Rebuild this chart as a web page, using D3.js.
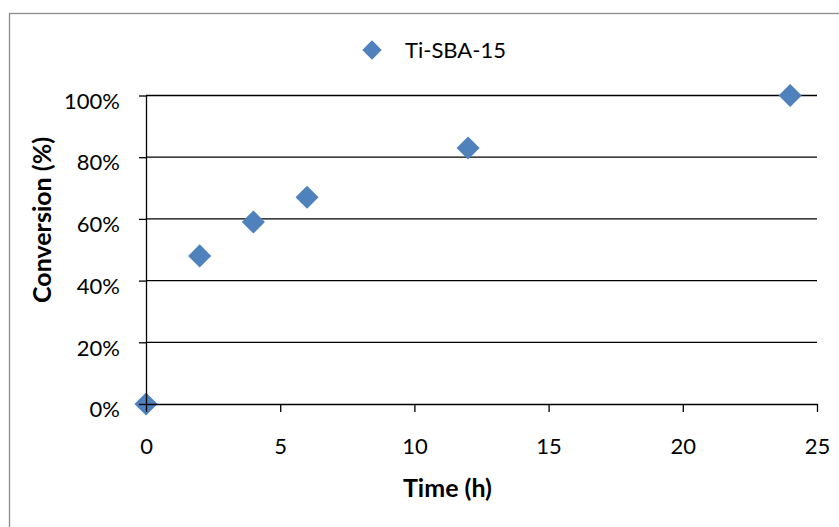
<!DOCTYPE html>
<html>
<head>
<meta charset="utf-8">
<script src="https://cdn.jsdelivr.net/npm/d3@7"></script>
<style>
    body { margin: 0; background: #fff; }
    svg text { font-family: Lato, "Open Sans", sans-serif; fill: #000; }
</style>
</head>
<body>
<div id="chart"></div>
<script>
// reaction time (h) vs conversion
const times = [0, 2, 4, 6, 12, 24];
const conversion = [0, 0.48, 0.59, 0.67, 0.83, 1.00];
const seriesName = "Ti-SBA-15";
const xTicks = [0, 5, 10, 15, 20, 25];
const yTicks = [0, 0.2, 0.4, 0.6, 0.8, 1.0];

const width = 839, height = 527;
const margin = {top: 95.5, right: 22, bottom: 123, left: 146};
const plotW = width - margin.left - margin.right;
const plotH = height - margin.top - margin.bottom;
const markerColor = "#4F81BD";

const svg = d3.select("#chart").append("svg")
    .attr("width", width)
    .attr("height", height);

// outer chart frame (runs off the right and bottom of the picture)
svg.append("rect")
    .attr("x", 9.5).attr("y", 13.5)
    .attr("width", 900).attr("height", 600)
    .attr("fill", "#fff")
    .attr("stroke", "#8c8c8c")
    .attr("stroke-width", 1.3);

const x = d3.scaleLinear().domain([0, 25]).range([0, plotW]);
const y = d3.scaleLinear().domain([0, 1]).range([plotH, 0]);

const g = svg.append("g")
    .attr("transform", "translate(" + margin.left + "," + margin.top + ")");

// horizontal gridlines
g.append("g")
    .selectAll("line")
    .data(yTicks.slice(1))
    .join("line")
    .attr("x1", 0).attr("x2", plotW)
    .attr("y1", d => y(d)).attr("y2", d => y(d))
    .attr("stroke", "#000")
    .attr("stroke-width", 1.3);

const diamond = d3.symbol().type(d3.symbolDiamond2).size(340);

g.append("g")
    .selectAll("path")
    .data(times.map((t, i) => ({t: t, v: conversion[i]})))
    .join("path")
    .attr("d", diamond)
    .attr("transform", d => "translate(" + x(d.t) + "," + y(d.v) + ")")
    .attr("fill", markerColor);

// axes go on top of the markers (the 0,0 point shows the cross)
const yAxis = d3.axisLeft(y)
    .tickValues(yTicks)
    .tickFormat(d3.format(".0%"))
    .tickSizeInner(7)
    .tickSizeOuter(0)
    .tickPadding(19);

const yAxisG = g.append("g").call(yAxis);

const xAxis = d3.axisBottom(x)
    .tickValues(xTicks)
    .tickSizeInner(8)
    .tickSizeOuter(0)
    .tickPadding(42);

const xAxisG = g.append("g")
    .attr("transform", "translate(0," + plotH + ")")
    .call(xAxis);

[yAxisG, xAxisG].forEach(ax => {
    ax.select(".domain").attr("stroke", "#000").attr("stroke-width", 1.3);
    ax.selectAll(".tick line").attr("stroke", "#000").attr("stroke-width", 1.3);
    ax.selectAll(".tick text")
        .attr("font-size", 22)
        .style("font-family", "Lato, 'Open Sans', sans-serif")
        .attr("fill", "#000");
});
yAxisG.selectAll(".tick text").attr("dy", "0.58em");
xAxisG.selectAll(".tick text").attr("dy", "0");

// axis titles
svg.append("text")
    .attr("x", 447.5)
    .attr("y", 497)
    .attr("text-anchor", "middle")
    .attr("font-size", 25)
    .attr("font-weight", "bold")
    .text("Time (h)");

svg.append("text")
    .attr("transform", "translate(51,220) rotate(-90)")
    .attr("text-anchor", "middle")
    .attr("font-size", 25)
    .attr("font-weight", "bold")
    .text("Conversion (%)");

// legend
const legend = svg.append("g").attr("transform", "translate(372,50)");
legend.append("path")
    .attr("d", d3.symbol().type(d3.symbolDiamond2).size(240))
    .attr("fill", markerColor);
legend.append("text")
    .attr("x", 33)
    .attr("y", 8)
    .attr("font-size", 22)
    .text(seriesName);
</script>
</body>
</html>
